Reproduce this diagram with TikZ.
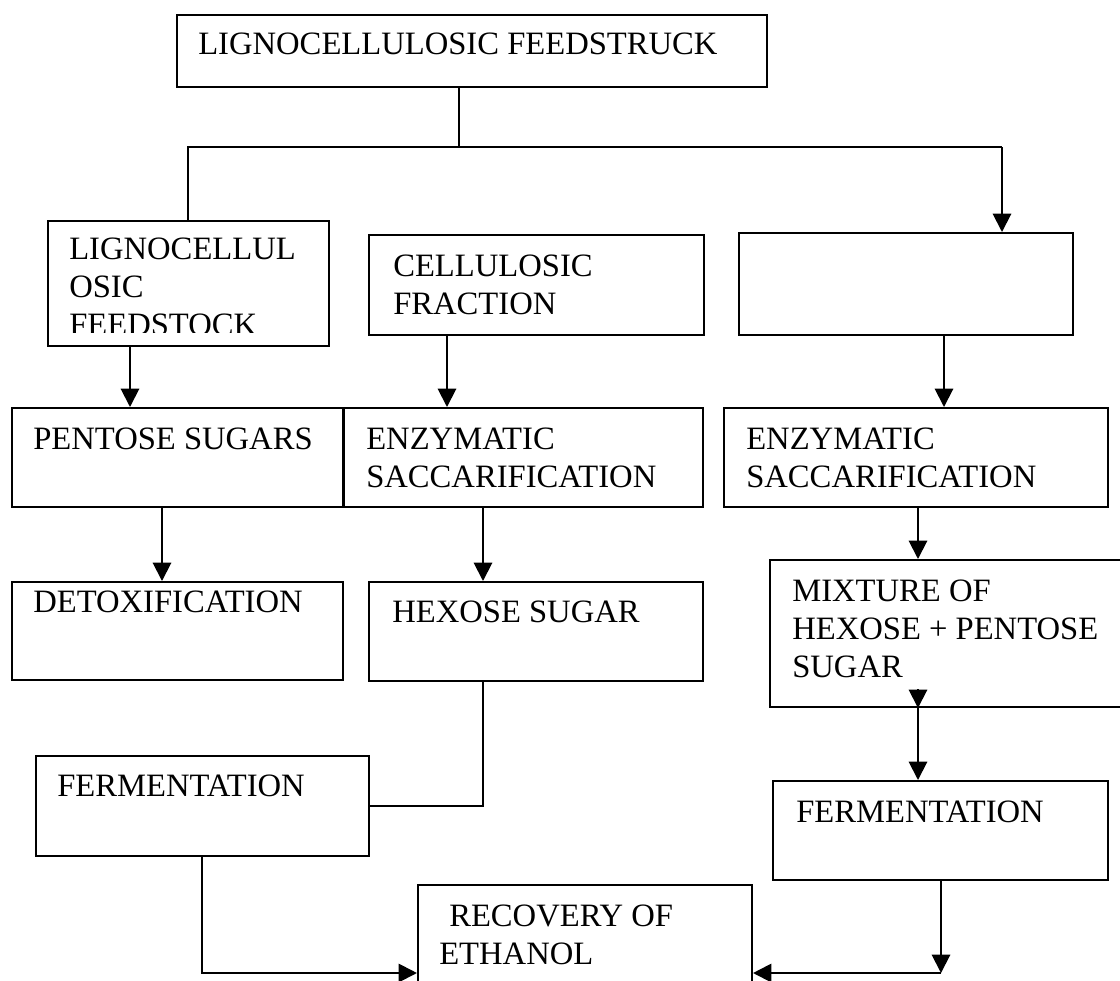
\documentclass[tikz,border=0pt]{standalone}
\usepackage{fontspec}
\setmainfont{Liberation Serif}
\usepackage{tikz}
\usetikzlibrary{arrows.meta}
\newcommand{\boxfont}{\fontsize{23.2}{27}\selectfont}
\tikzstyle{box} = [draw, line width=1.4pt, inner sep=0pt]
\tikzstyle{txt} = [anchor=north west, align=left, inner sep=0pt]
\tikzstyle{line} = [draw, -{Triangle[length=13pt,width=13pt]}, line width=1.4pt]

\begin{document}
\begin{tikzpicture}[x=0.025cm, y=-0.025cm]
	\tikzstyle{every node}=[font=\boxfont]
	\useasboundingbox (0,0) rectangle (1120,981);
	
	% ------------------- Boxes ------------------- %
	\node[box, minimum width=14.75cm, minimum height=1.8cm] (top) at (472,51) {};
	\node[box, minimum width=7.025cm, minimum height=3.125cm] (lfeed) at (188.5,283.5) {};
	\node[box, minimum width=8.375cm, minimum height=2.5cm] (cell) at (536.5,285) {};
	\node[box, minimum width=8.35cm, minimum height=2.55cm] (empty) at (906,284) {};
	
	\node[box, minimum width=8.275cm, minimum height=2.475cm] (pent) at (177.5,457.5) {};
	\node[box, minimum width=8.975cm, minimum height=2.475cm] (enz1) at (523.5,457.5) {};
	\node[box, minimum width=9.6cm, minimum height=2.475cm] (enz2) at (916,457.5) {};
	
	\node[box, minimum width=8.275cm, minimum height=2.45cm] (detox) at (177.5,631) {};
	\node[box, minimum width=8.35cm, minimum height=2.475cm] (hex) at (536,631.5) {};
	\node[box, minimum width=8.9cm, minimum height=3.675cm] (mix) at (948,633.5) {};
	
	\node[box, minimum width=8.325cm, minimum height=2.5cm] (ferm1) at (202.5,806) {};
	\node[box, minimum width=8.375cm, minimum height=2.475cm] (ferm2) at (940.5,830.5) {};
	\node[box, minimum width=8.35cm, minimum height=3cm] (recov) at (585,945) {};
	
	% ------------------- Texts ------------------- %
	\node[txt] (ttop) at (198,33) {LIGNOCELLULOSIC FEEDSTRUCK};
	\begin{scope}
		\clip (48,221) rectangle (329,332);
		\node[txt] (tlfeed) at (69,238) {LIGNOCELLUL\\OSIC\\FEEDSTOCK};
	\end{scope}
	\node[txt] (tcell) at (393,255) {CELLULOSIC\\FRACTION};
	\node[txt] (tpent) at (33,428) {PENTOSE SUGARS};
	\node[txt] (tenz1) at (366,428) {ENZYMATIC\\SACCARIFICATION};
	\node[txt] (tenz2) at (746,428) {ENZYMATIC\\SACCARIFICATION};
	\node[txt] (tdetox) at (33,591) {DETOXIFICATION};
	\node[txt] (thex) at (392,601) {HEXOSE SUGAR};
	\node[txt] (tmix) at (792,580) {MIXTURE OF\\HEXOSE + PENTOSE\\SUGAR};
	\node[txt] (tferm1) at (57,775) {FERMENTATION};
	\node[txt] (tferm2) at (796,801) {FERMENTATION};
	\node[txt] (trecov) at (439,905) {\hspace*{0.25cm}RECOVERY OF\\ETHANOL};
	
	% ------------------- Connector columns ------------------- %
	\coordinate (brS) at (459,147);
	\coordinate (brL) at (188,147);
	\coordinate (brR) at (1002,147);
	\coordinate (c1) at (130,0);
	\coordinate (c2) at (447,0);
	\coordinate (c3) at (944,0);
	\coordinate (c4) at (162,0);
	\coordinate (c5) at (483,0);
	\coordinate (c6) at (918,0);
	\coordinate (c7) at (202,0);
	\coordinate (c8) at (941,0);
	\coordinate (mixin) at (918,689);
	\coordinate (bot) at (0,973);
	
	% ------------------- Connectors ------------------- %
	\draw[line width=1.4pt] (top.south -| brS) -- (brS);
	\draw[line width=1.4pt] (lfeed.north -| brL) -- (brL) -- (brR);
	\draw[line] (brR) -- (empty.north -| brR);
	
	\draw[line] (lfeed.south -| c1) -- (pent.north -| c1);
	\draw[line] (cell.south -| c2) -- (enz1.north -| c2);
	\draw[line] (empty.south -| c3) -- (enz2.north -| c3);
	
	\draw[line] (pent.south -| c4) -- (detox.north -| c4);
	\draw[line] (enz1.south -| c5) -- (hex.north -| c5);
	\draw[line] (enz2.south -| c6) -- (mix.north -| c6);
	
	\draw[line width=1.4pt] (hex.south -| c5) |- (ferm1.east);
	\draw[line] (mixin) -- (mix.south -| mixin);
	\draw[line] (mix.south -| mixin) -- (ferm2.north -| mixin);
	
	\draw[line] (ferm1.south -| c7) |- (recov.west |- bot);
	\draw[line] (ferm2.south -| c8) -- (c8 |- bot);
	\draw[line] (c8 |- bot) -- (recov.east |- bot);
	
\end{tikzpicture}
\end{document}
